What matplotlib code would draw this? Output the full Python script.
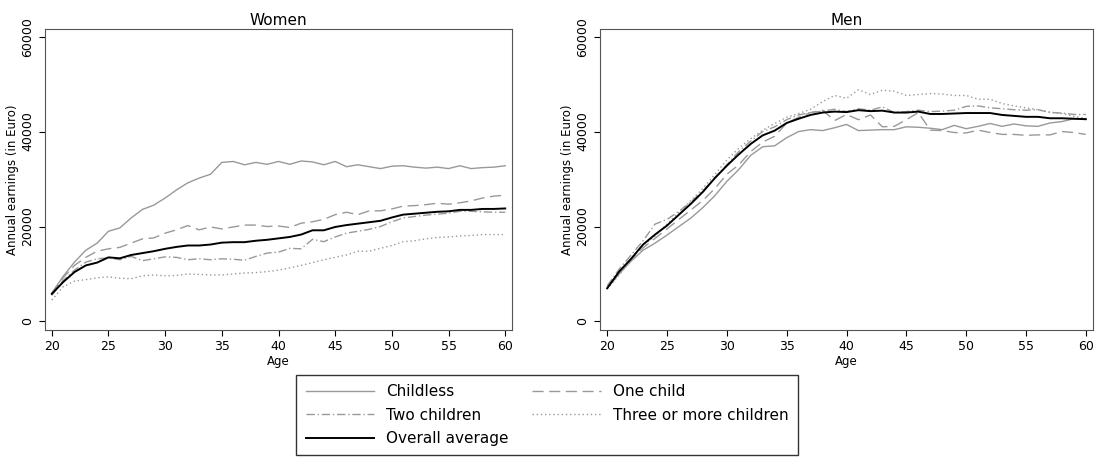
import numpy as np
import matplotlib.pyplot as plt

age = np.arange(20, 61)

w_childless = [6000, 9500, 12500, 15000, 16500, 19000, 19700, 21800, 23600, 24500, 26000, 27700, 29200, 30200, 31000, 33500, 33700, 33000, 33500, 33100, 33700, 33100, 33800, 33600, 33000, 33700, 32600, 33000, 32600, 32200, 32700, 32800, 32500, 32300, 32500, 32200, 32800, 32200, 32400, 32500, 32800]
w_one = [5800, 9200, 11800, 13500, 14800, 15300, 15600, 16500, 17400, 17600, 18600, 19300, 20200, 19300, 19900, 19500, 19900, 20300, 20300, 20000, 20100, 19800, 20700, 21000, 21500, 22500, 23000, 22500, 23300, 23300, 23700, 24300, 24400, 24600, 24900, 24700, 25000, 25400, 26000, 26400, 26600]
w_two = [5500, 8600, 10800, 12500, 13200, 13400, 13000, 13700, 12800, 13200, 13600, 13500, 13000, 13200, 13000, 13200, 13100, 12900, 13700, 14400, 14600, 15400, 15300, 17300, 16800, 17800, 18600, 19000, 19400, 20000, 21000, 21800, 22100, 22400, 22600, 22800, 23200, 23200, 23100, 23000, 23000]
w_three = [4500, 7300, 8500, 8800, 9200, 9400, 9100, 9000, 9600, 9800, 9600, 9700, 10000, 9900, 9800, 9800, 10000, 10200, 10300, 10500, 10800, 11300, 11800, 12400, 13000, 13500, 14000, 14800, 14800, 15400, 16000, 16800, 17000, 17400, 17700, 17800, 18000, 18100, 18300, 18300, 18300]
w_all = [5800, 8300, 10400, 11800, 12400, 13500, 13300, 14000, 14400, 14800, 15300, 15700, 16000, 16000, 16200, 16600, 16700, 16700, 17000, 17200, 17500, 17800, 18300, 19200, 19200, 19900, 20300, 20600, 20900, 21200, 21900, 22500, 22700, 22900, 23100, 23200, 23500, 23500, 23700, 23700, 23800]

m_childless = [7000, 10000, 12700, 15000, 16500, 18200, 20000, 21800, 24000, 26500, 29500, 32000, 35000, 36800, 37000, 38700, 40000, 40400, 40200, 40800, 41500, 40200, 40300, 40400, 40400, 41000, 40900, 40700, 40400, 41300, 40600, 41100, 41700, 41100, 41600, 41200, 41100, 41800, 42100, 42700, 42700]
m_one = [7000, 10500, 13000, 15500, 17500, 19500, 21500, 23500, 25500, 28000, 31000, 33000, 35800, 37800, 39000, 41800, 43000, 44000, 44500, 42300, 43600, 42500, 43500, 41000, 41100, 42500, 44000, 40300, 40200, 39800, 39700, 40300, 39800, 39400, 39400, 39200, 39300, 39300, 40000, 39800, 39400]
m_two = [7500, 11000, 14000, 17000, 20500, 21500, 23200, 25200, 27500, 30300, 33000, 35800, 38000, 40000, 41000, 42500, 43500, 44000, 44300, 44700, 44200, 44800, 44500, 45200, 44000, 44200, 44500, 44200, 44300, 44500, 45300, 45400, 45000, 44800, 44600, 44500, 44600, 44000, 43900, 43600, 43600]
m_three = [6800, 9800, 13000, 16000, 18000, 20500, 23000, 25500, 28000, 31000, 34000, 36500, 38500, 40300, 41700, 43000, 43800, 44700, 46300, 47600, 47000, 48800, 47800, 48700, 48500, 47600, 47800, 48000, 47900, 47600, 47600, 46800, 46800, 45900, 45400, 45000, 44600, 44100, 43800, 43200, 42800]
m_all = [7000, 10500, 13200, 16200, 18300, 20200, 22500, 24800, 27300, 30200, 32800, 35200, 37400, 39200, 40200, 41800, 42700, 43500, 44000, 44200, 44100, 44500, 44300, 44400, 44000, 44000, 44200, 43700, 43700, 43800, 43900, 43900, 43900, 43500, 43300, 43100, 43100, 42800, 42800, 42700, 42600]

labels = ['Childless', 'One child', 'Two children', 'Three or more children', 'Overall average']
styles = [
    dict(color='#999999', lw=1.0, ls='-'),
    dict(color='#999999', lw=1.0, ls=(0, (8, 4))),
    dict(color='#999999', lw=1.0, ls=(0, (6, 2, 1, 2))),
    dict(color='#999999', lw=1.0, ls=(0, (1, 2))),
    dict(color='black', lw=1.4, ls='-'),
]

fig = plt.figure(figsize=(10.96, 4.70), dpi=100)
ax1 = fig.add_axes([45/1096, 1-330/470, 467/1096, 301/470])
ax2 = fig.add_axes([600/1096, 1-330/470, 493/1096, 301/470])

handles = []
for ax, title, series in [(ax1, 'Women', [w_childless, w_one, w_two, w_three, w_all]),
                          (ax2, 'Men', [m_childless, m_one, m_two, m_three, m_all])]:
    handles = []
    for s, lab, st in zip(series, labels, styles):
        h, = ax.plot(age, s, label=lab, **st)
        handles.append(h)
    ax.set_title(title, fontsize=11, pad=3)
    ax.set_xlim(19.4, 60.6)
    ax.set_ylim(-1800, 61600)
    ax.set_xticks(range(20, 61, 5))
    ax.set_yticks([0, 20000, 40000, 60000])
    ax.set_yticklabels(['0', '20000', '40000', '60000'], rotation=90, va='center')
    ax.tick_params(labelsize=9, length=4)
    ax.set_xlabel('Age', fontsize=8.5, labelpad=1)
    ax.set_ylabel('Annual earnings (in Euro)', fontsize=8.5, labelpad=2)
    for sp in ax.spines.values():
        sp.set_color('#555555')

order = [0, 2, 4, 1, 3]
fig.legend([handles[i] for i in order], [labels[i] for i in order], ncol=2,
           loc='center', bbox_to_anchor=(547/1096, 1-415/470), fontsize=11,
           frameon=True, fancybox=False, edgecolor='black', handlelength=4.5,
           columnspacing=1.5, borderpad=0.6, labelspacing=0.55)

fig.savefig('out.png', dpi=100)
